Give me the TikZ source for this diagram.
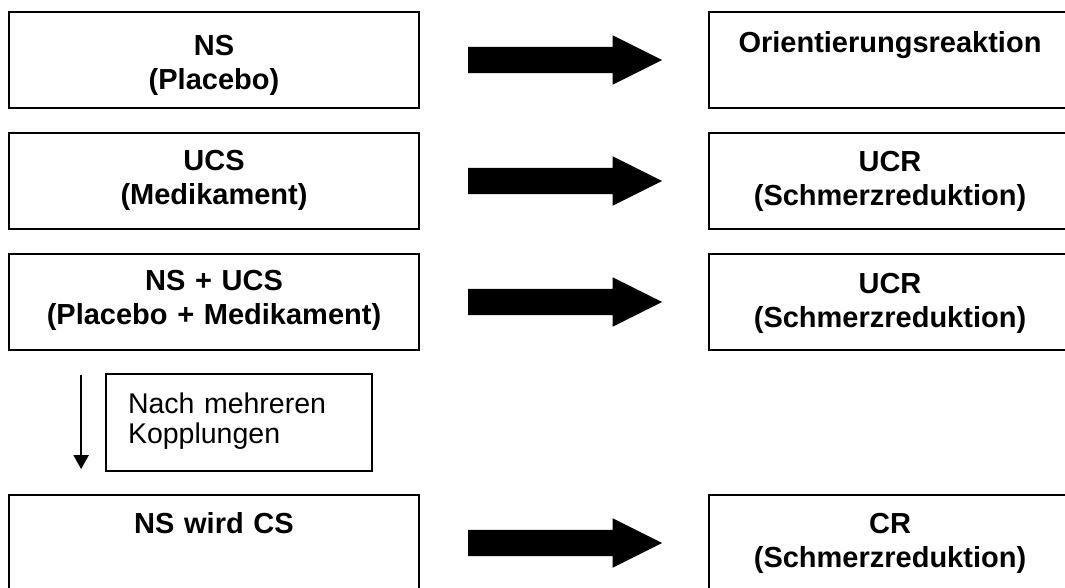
\documentclass[tikz,border=0pt]{standalone}
\usepackage{fontspec}
\setmainfont{Liberation Sans}
\usetikzlibrary{shapes.arrows,arrows.meta,calc}
% vertical struts: height above the first baseline, depth below the last one
\newcommand\hstrut[1]{\rule{0pt}{#1pt}}
\newcommand\dstrut[1]{\rule[-#1pt]{0pt}{#1pt}}
\begin{document}
\begin{tikzpicture}[x=1pt,y=-1pt,
  stimbox/.style={draw, line width=1.8pt, inner xsep=0pt, inner ysep=0pt,
    minimum height=96pt, align=center,
    font=\bfseries\fontsize{29}{34}\selectfont},
  leftbox/.style={stimbox, minimum width=410pt, text width=400pt},
  rightbox/.style={stimbox, minimum width=362pt, text width=352pt},
  notebox/.style={draw, line width=1.5pt, inner xsep=22pt, inner ysep=0pt,
    text width=222pt, minimum width=266pt, minimum height=97pt, align=left,
    font=\fontsize{28.5}{30}\selectfont},
  bigarrow/.style={single arrow, fill=black, draw=none, anchor=tail,
    inner xsep=0pt, inner ysep=13pt,
    minimum height=194pt, minimum width=49pt,
    single arrow head extend=11.5pt, single arrow tip angle=53.13},
  thinarrow/.style={line width=2pt, -{Triangle[length=14pt,width=15pt]}}
]
\clip (0,0) rectangle (1065,588);
\fill[white] (0,0) rectangle (1065,588);

% stimuli (left column)
\node[leftbox] (ns)    at (214,60)  {\hstrut{44}NS\\(Placebo)\dstrut{18}};
\node[leftbox] (ucs)   at (214,181) {\hstrut{38}UCS\\(Medikament)\dstrut{24}};
\node[leftbox] (nsucs) at (214,302) {\hstrut{36}NS + UCS\\(Placebo + Medikament)\dstrut{26}};
\node[leftbox] (cs)    at (214,543) {\hstrut{38}NS wird CS\dstrut{58}};

% reactions (right column)
\node[rightbox] (or)   at (890,60)  {\hstrut{41}Orientierungsreaktion\dstrut{55}};
\node[rightbox] (ucr)  at (890,181) {\hstrut{39}UCR\\(Schmerzreduktion)\dstrut{23}};
\node[rightbox] (ucrb) at (890,302) {\hstrut{39}UCR\\(Schmerzreduktion)\dstrut{23}};
\node[rightbox] (cr)   at (890,543) {\hstrut{38}CR\\(Schmerzreduktion)\dstrut{24}};

% block arrows between stimulus and reaction, 48pt clear of each box
\node[bigarrow] (a1) at ($(ns.east)+(48,0)$) {};
\node[bigarrow] (a2) at ($(ucs.east)+(48,0)$) {};
\node[bigarrow] (a3) at ($(nsucs.east)+(48,0)$) {};
\node[bigarrow] (a4) at ($(cs.east)+(48,0)$) {};

% conditioning step (y axis points down here)
\node[notebox] (note) at (239,422.5) {\hstrut{39}Nach mehreren\\Kopplungen\dstrut{28}};
\coordinate (stepfrom) at ($(nsucs.south west)+(73,24)$);
\coordinate (stepto)   at ($(cs.north west)+(73,-25)$);
\draw[thinarrow] (stepfrom) -- (stepto);
\end{tikzpicture}
\end{document}
